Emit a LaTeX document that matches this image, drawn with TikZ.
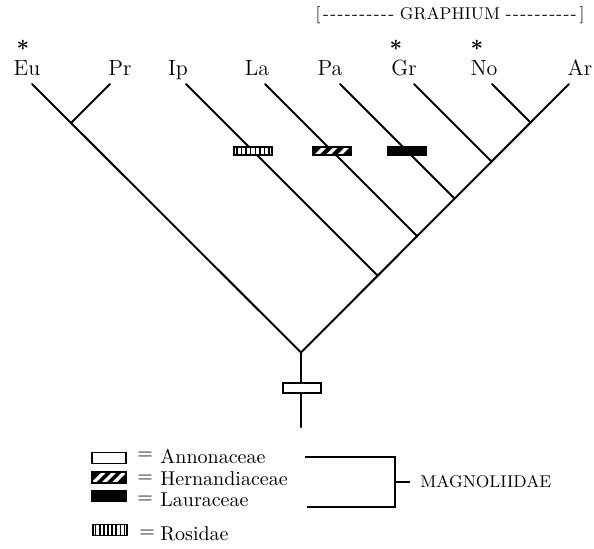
\documentclass[tikz,border=0pt]{standalone}
\usepackage{bm}
\usetikzlibrary{calc}
\newcommand{\dashrun}{-\kern.7pt-\kern.7pt-\kern.7pt-\kern.7pt-\kern.7pt-\kern.7pt-\kern.7pt-\kern.7pt-\kern.7pt-}
\tikzset{
  branch/.style={line width=1pt, line cap=round},
  bar/.style={rectangle, draw=black, line width=0.8pt, inner sep=0pt,
              minimum width=19pt, minimum height=4pt},
  swatch/.style={minimum width=17pt, minimum height=5.5pt},
  annon/.style={bar, fill=white, minimum height=5pt},
  laur/.style={bar, fill=black},
  hern/.style={bar, fill=black, path picture={
      \foreach \t in {0.2,0.5,0.8}
        \draw[white, line width=1.7pt]
          ($(path picture bounding box.west)!\t!(path picture bounding box.east)$)
          +(-3pt,-3pt) -- +(3pt,3pt);}},
  rosid/.style={bar, fill=white, path picture={
      \foreach \t in {0.08,0.2,...,0.95}
        \draw[line width=0.7pt]
          ($(path picture bounding box.south west)!\t!(path picture bounding box.south east)$)
          -- ++(0,8pt);}},
  taxon/.style={font=\fontsize{11}{13}\selectfont, inner sep=0pt, anchor=base},
  star/.style={font=\fontsize{11}{13}\selectfont, inner sep=0pt},
  key/.style={font=\fontsize{10}{12}\selectfont, inner sep=0pt, anchor=west},
  brk/.style={line width=0.75pt},
}
\begin{document}
\begin{tikzpicture}[x=0.5pt,y=-0.5pt]
\useasboundingbox (0,0) rectangle (594,548);

% taxa
\node[taxon] (Eu) at (27,75)  {Eu};
\node[taxon] (Pr) at (120,75) {Pr};
\node[taxon] (Ip) at (178,75) {Ip};
\node[taxon] (La) at (257,75) {La};
\node[taxon] (Pa) at (330,75) {Pa};
\node[taxon] (Gr) at (404,75) {Gr};
\node[taxon] (No) at (484,75) {No};
\node[taxon] (Ar) at (580,75) {Ar};
\node[star] (sEu) at (23,45)  {$\bm{\ast}$};
\node[star] (sGr) at (396,45) {$\bm{\ast}$};
\node[star] (sNo) at (477,45) {$\bm{\ast}$};
\node[font=\fontsize{8.5}{10}\selectfont, inner sep=0pt] (graph) at (450,15)
  {[\,\dashrun\ GRAPHIUM \dashrun\,]};

% branch tips and forks
\coordinate (tEu) at (32,84);
\coordinate (tPr) at (110,84);
\coordinate (tIp) at (186,84);
\coordinate (tLa) at (265,84);
\coordinate (tPa) at (340,84);
\coordinate (tGr) at (414,84);
\coordinate (tNo) at (492,84);
\coordinate (tAr) at (569,84);
\coordinate (fEP) at (71,123);
\coordinate (fIp) at (377.5,275.5);
\coordinate (fLa) at (417,236);
\coordinate (fPa) at (454.5,198.5);
\coordinate (fGr) at (491.5,161.5);
\coordinate (fNo) at (530.5,122.5);
\coordinate (root) at (301,352.5);
\coordinate (base) at (301,427);

\draw[branch] (tEu) -- (root);
\draw[branch] (tPr) -- (fEP);
\draw[branch] (tAr) -- (root);
\draw[branch] (tIp) -- (fIp);
\draw[branch] (tLa) -- (fLa);
\draw[branch] (tPa) -- (fPa);
\draw[branch] (tGr) -- (fGr);
\draw[branch] (tNo) -- (fNo);
\draw[branch] (root) -- (base);

% character bars
\node[rosid] (bIp) at (253,151) {};
\node[hern]  (bLa) at (332,151) {};
\node[laur]  (bPa) at (407,151) {};
\node[annon] (bRt) at (302,388) {};

% legend
\node[annon, swatch] (kAnn) at (109,458) {};
\node[hern, swatch]  (kHer) at (109,477.5) {};
\node[laur, swatch]  (kLau) at (109,496) {};
\node[rosid, swatch] (kRos) at (110,530) {};
\node[key] (eAnn) at (137,456) {=};
\node[key] (eHer) at (137,479) {=};
\node[key] (eLau) at (137,500) {=};
\node[key] (eRos) at (139,534) {=};
\node[key] (nAnn) at (160,456) {Annonaceae};
\node[key] (nHer) at (160,479) {Hernandiaceae};
\node[key] (nLau) at (160,500) {Lauraceae};
\node[key] (nRos) at (160,534) {Rosidae};

\coordinate (mTop) at (305,457);
\coordinate (mBot) at (307,507);
\coordinate (mEdge) at (395,482);
\node[key, font=\fontsize{8.5}{10}\selectfont] (mag) at (420,482) {MAGNOLIIDAE};
\draw[brk] (mTop) -| (mEdge) |- (mBot);
\draw[brk] (mEdge) -- ([xshift=-5pt]mag.west);
\end{tikzpicture}
\end{document}
